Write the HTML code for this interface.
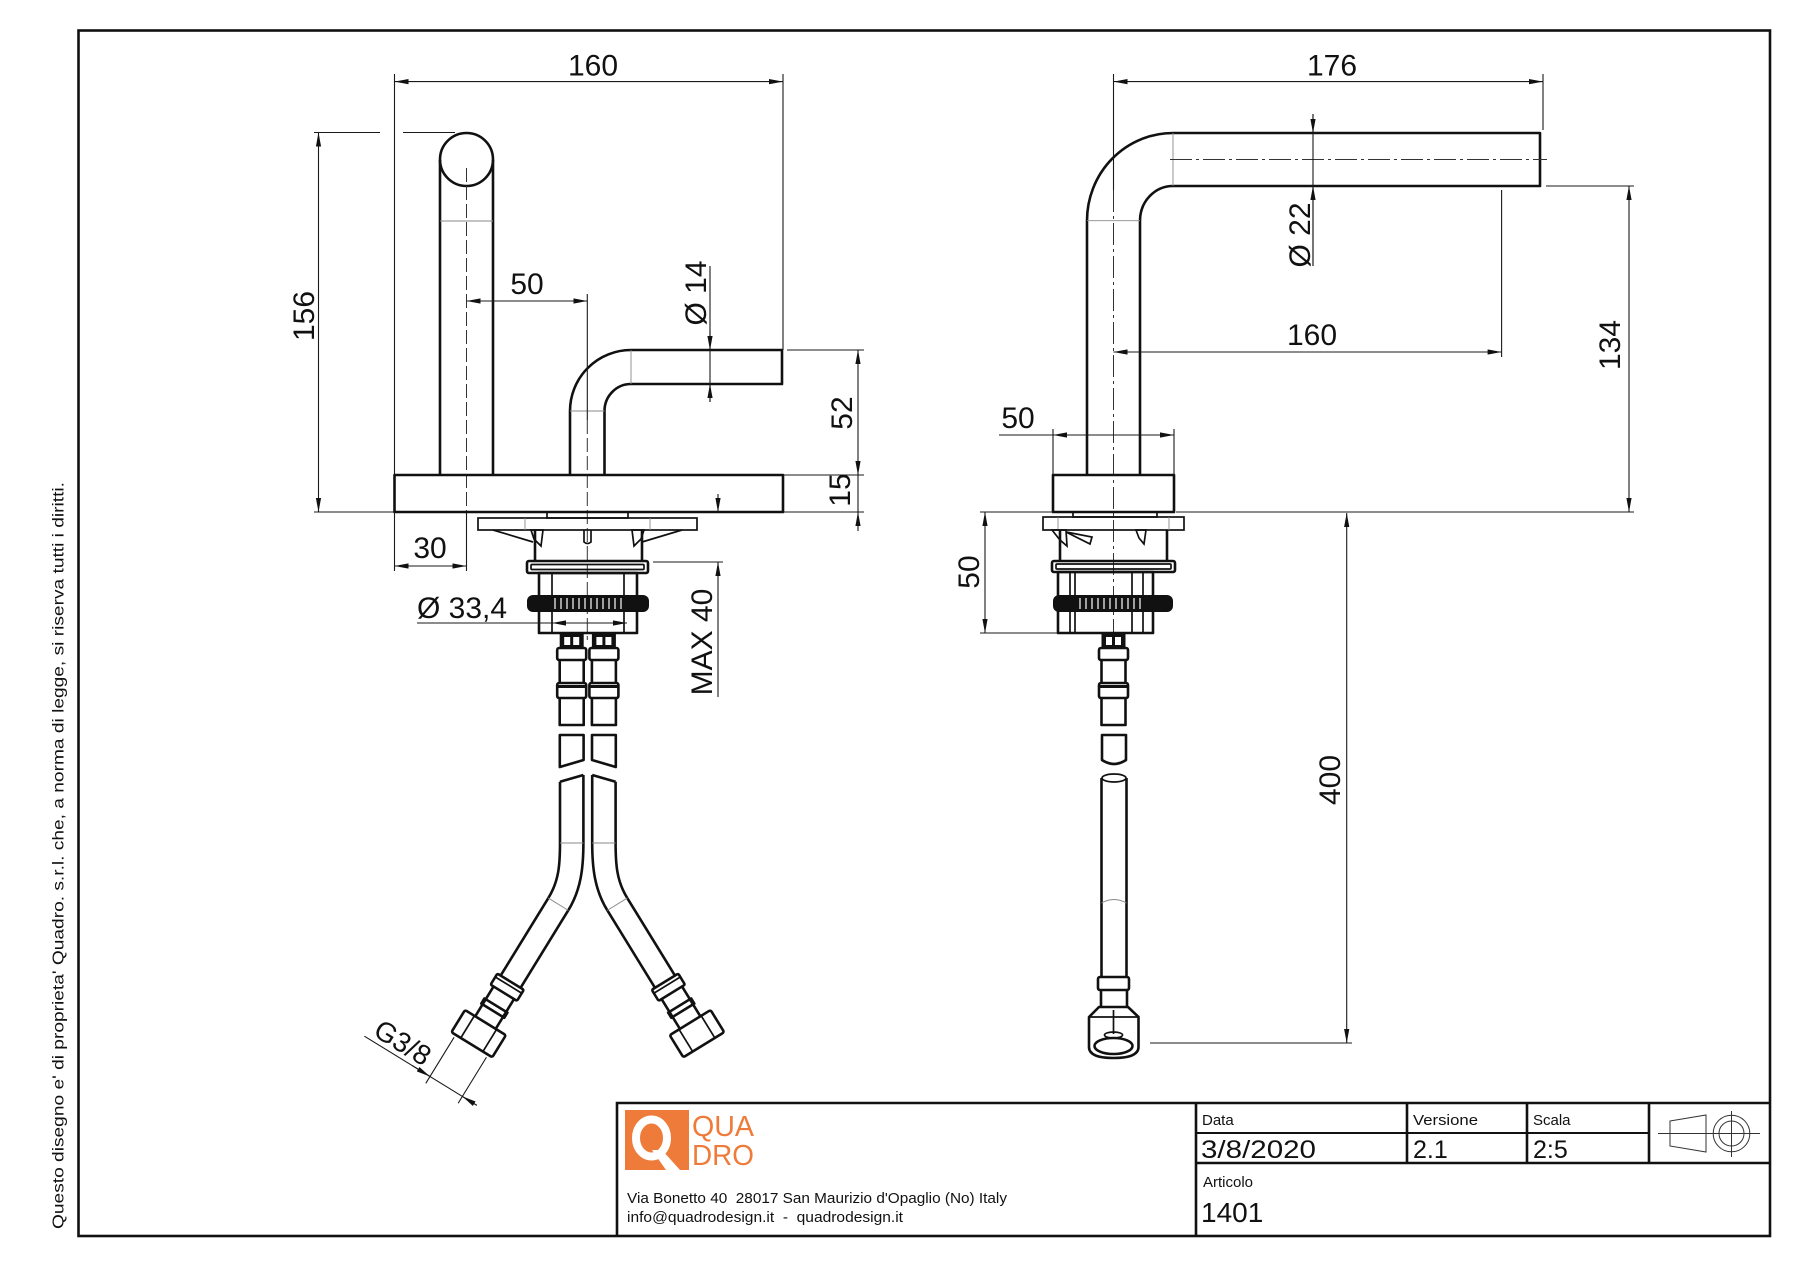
<!DOCTYPE html>
<html>
<head>
<meta charset="utf-8">
<style>
html,body{margin:0;padding:0;background:#fff;}
svg{display:block;}
.o{fill:none;stroke:#111;stroke-width:2.6;stroke-linejoin:round;}
.m{fill:none;stroke:#111;stroke-width:1.7;}
.d{fill:none;stroke:#1a1a1a;stroke-width:1.1;}
.t{fill:none;stroke:#8a8a8a;stroke-width:0.9;}
.c{fill:none;stroke:#333;stroke-width:1;stroke-dasharray:14 4;}
.cc{fill:none;stroke:#333;stroke-width:1;stroke-dasharray:22 4 3 4;}
.n{font-family:"Liberation Sans",Arial,sans-serif;font-size:30px;fill:#111;}
.tb{font-family:"Liberation Sans",Arial,sans-serif;fill:#111;}
.tk{stroke:#fff;stroke-width:1.2;}
</style>
</head>
<body>
<svg width="1800" height="1273" viewBox="0 0 1800 1273" xmlns="http://www.w3.org/2000/svg">
<defs>
<marker id="a" viewBox="0 0 14 6" refX="14" refY="3" markerWidth="14" markerHeight="6" markerUnits="userSpaceOnUse" orient="auto-start-reverse">
<path d="M0,0.4L14,3L0,5.6z" fill="#111"/>
</marker>
<g id="ft">
<rect x="-11" y="633" width="22" height="15" fill="#111" stroke="#111" stroke-width="2"/>
<rect x="-7.5" y="637" width="6" height="8" fill="#fff"/>
<rect x="1.5" y="637" width="6" height="8" fill="#fff"/>
<rect class="o" x="-14.5" y="648" width="29" height="12" rx="2"/>
<path class="o" d="M-12,660V683M12,660V683"/>
<rect class="o" x="-14.5" y="683" width="29" height="15" rx="2"/>
<line x1="-14.5" y1="686.5" x2="14.5" y2="686.5" stroke="#111" stroke-width="3"/>
<path class="o" d="M-12,698V725H12V698"/>
</g>
<g id="hL">
<path class="o" d="M559.8,735H583.6V760L559.8,767Z"/>
<path class="o" d="M583.4,775L560,781.7"/>
<path class="o" d="M560,781.7V843C560,865 558.8,881.1 548.3,898.1"/>
<path class="o" d="M583.4,775V843C583.4,868 580.9,889.9 568.3,910.3"/>
<line class="t" x1="560" y1="843" x2="583.4" y2="843"/>
<g transform="translate(558.3,904.2) rotate(31.6)">
<path class="o" d="M-11.7,0V91M11.7,0V91"/>
<line class="t" x1="-11.7" y1="0" x2="11.7" y2="0"/>
<rect class="o" x="-15.5" y="91" width="31" height="13" rx="1.5"/>
<line class="m" x1="-15.5" y1="95" x2="15.5" y2="95"/>
<path class="o" d="M-12,104V139M12,104V139"/>
<rect class="o" x="-13.5" y="119" width="27" height="6"/>
<rect class="o" x="-24" y="139" width="48" height="26" rx="2"/>
<path class="m" d="M-13,139V165M13,139V165"/>
</g>
</g>
</defs>

<!-- frame -->
<rect x="78.5" y="30.5" width="1691.5" height="1205.5" fill="none" stroke="#111" stroke-width="2.6"/>

<!-- side text -->
<text class="tb" transform="translate(63.5,1229) rotate(-90)" font-size="16" textLength="747" lengthAdjust="spacingAndGlyphs">Questo disegno e' di proprieta' Quadro. s.r.l. che, a norma di legge, si riserva tutti i diritti.</text>

<!-- ================= LEFT VIEW ================= -->
<line class="d" x1="394.5" y1="74" x2="394.5" y2="475"/>
<line class="d" x1="783" y1="74" x2="783" y2="350"/>
<line class="d" x1="394.5" y1="81.6" x2="783" y2="81.6" marker-start="url(#a)" marker-end="url(#a)"/>
<text class="n" x="593" y="75.6" text-anchor="middle">160</text>

<path class="d" d="M314,132.5H380M403,132.5H455M314,512H394.5"/>
<line class="d" x1="318.5" y1="132.5" x2="318.5" y2="512" marker-start="url(#a)" marker-end="url(#a)"/>
<text class="n" transform="translate(314,316) rotate(-90)" text-anchor="middle">156</text>

<path class="o" d="M440,475V160M493,160V475"/>
<circle class="o" cx="466.5" cy="159.5" r="26.5"/>
<line class="t" x1="440" y1="221" x2="493" y2="221"/>
<line class="c" x1="466.5" y1="168" x2="466.5" y2="512"/>
<line class="d" x1="466.5" y1="512" x2="466.5" y2="571"/>

<path class="o" d="M570,475V411A61,61 0 0 1 631,350H782V384H631A26.5,27 0 0 0 604.5,411V475"/>
<line class="t" x1="631" y1="350" x2="631" y2="384"/>
<line class="t" x1="570" y1="411" x2="604.5" y2="411"/>
<line class="d" x1="587.3" y1="294" x2="587.3" y2="420"/>
<line class="c" x1="587.3" y1="420" x2="587.3" y2="640"/>

<line class="d" x1="466.5" y1="301" x2="587.3" y2="301" marker-start="url(#a)" marker-end="url(#a)"/>
<text class="n" x="527" y="294" text-anchor="middle">50</text>

<line class="d" x1="710" y1="266" x2="710" y2="402"/>
<line class="d" x1="710" y1="330" x2="710" y2="350" marker-end="url(#a)"/>
<line class="d" x1="710" y1="402" x2="710" y2="384" marker-end="url(#a)"/>
<text class="n" transform="translate(706,293) rotate(-90)" text-anchor="middle">Ø 14</text>

<path class="d" d="M787,350H864M783,475H864M783,512H864"/>
<line class="d" x1="858" y1="350" x2="858" y2="475" marker-start="url(#a)" marker-end="url(#a)"/>
<line class="d" x1="858" y1="475" x2="858" y2="512"/>
<line class="d" x1="858" y1="531" x2="858" y2="512" marker-end="url(#a)"/>
<text class="n" transform="translate(852,413) rotate(-90)" text-anchor="middle">52</text>
<text class="n" transform="translate(850,490) rotate(-90)" text-anchor="middle">15</text>

<rect class="o" x="394.5" y="475" width="388.5" height="37"/>

<line class="d" x1="394.5" y1="512" x2="394.5" y2="571"/>
<line class="d" x1="394.5" y1="566" x2="466.5" y2="566" marker-start="url(#a)" marker-end="url(#a)"/>
<text class="n" x="430" y="558" text-anchor="middle">30</text>

<line class="d" x1="718" y1="494" x2="718" y2="512" marker-end="url(#a)"/>
<path class="d" d="M653,562H723"/>
<line class="d" x1="718" y1="697" x2="718" y2="562" marker-end="url(#a)"/>
<text class="n" transform="translate(712,642) rotate(-90)" text-anchor="middle">MAX 40</text>

<rect class="m" x="547" y="512" width="81" height="6"/>
<rect class="m" x="478" y="518" width="219" height="12"/>
<path class="t" d="M525,518V530M650,518V530"/>
<path class="m" d="M493,530L533,542M682,530L642,542"/>
<path class="m" d="M531,530L543,530L541,546L534,539Z M644,530L632,530L634,546L641,539Z M584,530V542Q587.5,545 591,542V530"/>
<path class="o" d="M535,530V561M642,530V561"/>
<rect class="o" x="527" y="561" width="121" height="12" rx="2"/>
<rect class="m" x="531" y="564.5" width="113" height="5" rx="1"/>
<rect class="o" x="539" y="573" width="98" height="60"/>
<path class="m" d="M552,573V633M624,573V633"/>
<rect x="527" y="595" width="122" height="17" rx="6" fill="#111"/>
<path class="tk" d="M555,598V609M561,598V609M567,598V609M573,598V609M579,598V609M585,598V609M591,598V609M597,598V609M603,598V609M609,598V609M615,598V609M621,598V609"/>

<line class="d" x1="417" y1="623" x2="552" y2="623"/>
<line class="d" x1="552" y1="623" x2="627" y2="623" marker-start="url(#a)" marker-end="url(#a)"/>
<text class="n" x="417" y="618">Ø 33,4</text>

<use href="#ft" transform="translate(571.7,0)"/>
<use href="#ft" transform="translate(603.9,0)"/>
<use href="#hL"/>
<use href="#hL" transform="translate(1175.6,0) scale(-1,1)"/>

<!-- G3/8 -->
<g transform="translate(558.3,904.2) rotate(31.6)">
<path class="d" d="M-19,168V222M19,168V222"/>
<line class="d" x1="-96" y1="214" x2="36" y2="214"/>
<line class="d" x1="-40" y1="214" x2="-19" y2="214" marker-end="url(#a)"/>
<line class="d" x1="36" y1="214" x2="19" y2="214" marker-end="url(#a)"/>
<text class="n" x="-60" y="209" text-anchor="middle" style="font-size:28px">G3/8</text>
</g>

<!-- ================= RIGHT VIEW ================= -->
<line class="d" x1="1113.5" y1="74" x2="1113.5" y2="190"/>
<line class="cc" x1="1113.5" y1="190" x2="1113.5" y2="640"/>
<line class="d" x1="1543" y1="74" x2="1543" y2="130"/>
<line class="d" x1="1113.5" y1="81.6" x2="1543" y2="81.6" marker-start="url(#a)" marker-end="url(#a)"/>
<text class="n" x="1332" y="75.6" text-anchor="middle">176</text>

<path class="o" d="M1087,475V220.7A86,87.7 0 0 1 1173,133H1540V186H1173A33,34.7 0 0 0 1140,220.7V475"/>
<line class="t" x1="1173" y1="133" x2="1173" y2="186"/>
<line class="t" x1="1087" y1="220.7" x2="1140" y2="220.7"/>
<line class="cc" x1="1170" y1="159.5" x2="1547" y2="159.5"/>

<line class="d" x1="1313" y1="114" x2="1313" y2="266"/>
<line class="d" x1="1313" y1="114" x2="1313" y2="133" marker-end="url(#a)"/>
<line class="d" x1="1313" y1="266" x2="1313" y2="186" marker-end="url(#a)"/>
<text class="n" transform="translate(1310,235) rotate(-90)" text-anchor="middle">Ø 22</text>

<path class="d" d="M1546,186H1634M1176,512H1634"/>
<line class="d" x1="1629" y1="186" x2="1629" y2="512" marker-start="url(#a)" marker-end="url(#a)"/>
<text class="n" transform="translate(1620,345) rotate(-90)" text-anchor="middle">134</text>

<line class="d" x1="1501.6" y1="190" x2="1501.6" y2="357"/>
<line class="d" x1="1113.5" y1="352" x2="1501.6" y2="352" marker-start="url(#a)" marker-end="url(#a)"/>
<text class="n" x="1312" y="345" text-anchor="middle">160</text>

<path class="d" d="M1053,429V475M1174,429V475M999,435H1053"/>
<line class="d" x1="1053" y1="435" x2="1174" y2="435" marker-start="url(#a)" marker-end="url(#a)"/>
<text class="n" x="1018" y="428" text-anchor="middle">50</text>

<rect class="o" x="1053" y="475" width="121" height="37"/>

<path class="d" d="M980,512H1053M980,633H1060"/>
<line class="d" x1="985" y1="512" x2="985" y2="633" marker-start="url(#a)" marker-end="url(#a)"/>
<text class="n" transform="translate(979,572) rotate(-90)" text-anchor="middle">50</text>
<rect class="m" x="1073" y="512" width="84" height="5"/>
<rect class="m" x="1043" y="517" width="141" height="13"/>
<path class="t" d="M1058,517V530M1169,517V530"/>
<path class="m" d="M1052,530L1066,530L1067,546L1060,540Z M1066,532L1092,537L1090,544Z M1136,530L1146,530L1144,544L1139,538Z"/>
<path class="o" d="M1060,530V561M1167,530V561"/>
<rect class="o" x="1052" y="561" width="123" height="11" rx="2"/>
<rect class="m" x="1056" y="564" width="115" height="5" rx="1"/>
<rect class="o" x="1058" y="572" width="95" height="61"/>
<path class="m" d="M1070,572V633M1075,572V633M1132,572V633M1143,572V633"/>
<rect x="1053" y="595" width="120" height="17" rx="6" fill="#111"/>
<path class="tk" d="M1080,598V609M1086,598V609M1092,598V609M1098,598V609M1104,598V609M1110,598V609M1116,598V609M1122,598V609M1128,598V609M1134,598V609M1140,598V609"/>

<use href="#ft" transform="translate(1113.5,0)"/>
<path class="o" d="M1102,735H1126V760Q1114,768 1102,760Z"/>
<ellipse class="m" cx="1114" cy="778" rx="12" ry="4"/>
<path class="o" d="M1101.5,778V977M1126.5,778V977"/>
<path class="t" d="M1101.5,903Q1114,896 1126.5,903"/>
<rect class="o" x="1098" y="977" width="31" height="13" rx="2"/>
<path class="o" d="M1101,990V1007M1127,990V1007"/>
<path class="o" d="M1099,1007H1128L1138.5,1017V1047Q1138.5,1058 1113.5,1058Q1089,1058 1089,1047V1017Z"/>
<path class="m" d="M1089,1017H1138.5"/>
<ellipse class="o" cx="1113.5" cy="1046" rx="19" ry="8"/>
<path class="m" d="M1113.5,1010V1034"/>
<ellipse class="m" cx="1113.5" cy="1035" rx="9" ry="3"/>

<path class="d" d="M1150,1043H1352"/>
<line class="d" x1="1346.7" y1="513" x2="1346.7" y2="1043" marker-start="url(#a)" marker-end="url(#a)"/>
<text class="n" transform="translate(1340,780) rotate(-90)" text-anchor="middle">400</text>

<!-- ================= TITLE BLOCK ================= -->
<path fill="none" stroke="#111" stroke-width="2.6" d="M617,1236V1103H1770M1196,1103V1236M1196,1163H1770M1407,1103V1163M1527,1103V1163M1649,1103V1163"/>
<path fill="none" stroke="#111" stroke-width="2" d="M1196,1133H1649"/>

<rect x="625" y="1110" width="64" height="60" fill="#EE7B3A"/>
<ellipse cx="651.5" cy="1138" rx="15.5" ry="18.5" fill="none" stroke="#fff" stroke-width="8"/>
<path d="M652,1150L662,1150L680,1170L666,1170Z" fill="#fff"/>
<text class="tb" x="692" y="1136" font-size="29" style="fill:#EE7B3A" textLength="62" lengthAdjust="spacingAndGlyphs">QUA</text>
<text class="tb" x="692" y="1165" font-size="29" style="fill:#EE7B3A" textLength="62" lengthAdjust="spacingAndGlyphs">DRO</text>
<text class="tb" x="627" y="1203" font-size="14.5" style="white-space:pre" textLength="380" lengthAdjust="spacingAndGlyphs">Via Bonetto 40  28017 San Maurizio d'Opaglio (No) Italy</text>
<text class="tb" x="627" y="1222" font-size="14.5" style="white-space:pre" textLength="276" lengthAdjust="spacingAndGlyphs">info@quadrodesign.it  -  quadrodesign.it</text>

<text class="tb" x="1202" y="1125" font-size="15">Data</text>
<text class="tb" x="1201" y="1158" font-size="25" textLength="115" lengthAdjust="spacingAndGlyphs">3/8/2020</text>
<text class="tb" x="1413" y="1125" font-size="15" textLength="65" lengthAdjust="spacingAndGlyphs">Versione</text>
<text class="tb" x="1413" y="1158" font-size="25">2.1</text>
<text class="tb" x="1533" y="1125" font-size="15">Scala</text>
<text class="tb" x="1533" y="1158" font-size="25">2:5</text>
<text class="tb" x="1203" y="1187" font-size="15">Articolo</text>
<text class="tb" x="1201" y="1222" font-size="28">1401</text>

<path fill="none" stroke="#333" stroke-width="1" d="M1670,1121L1706,1115V1152L1670,1146Z M1658,1133.5H1760 M1731.5,1111V1157"/>
<circle cx="1731.5" cy="1133.5" r="18.3" fill="none" stroke="#333" stroke-width="1"/>
<circle cx="1731.5" cy="1133.5" r="12.5" fill="none" stroke="#333" stroke-width="1"/>
</svg>
</body>
</html>
